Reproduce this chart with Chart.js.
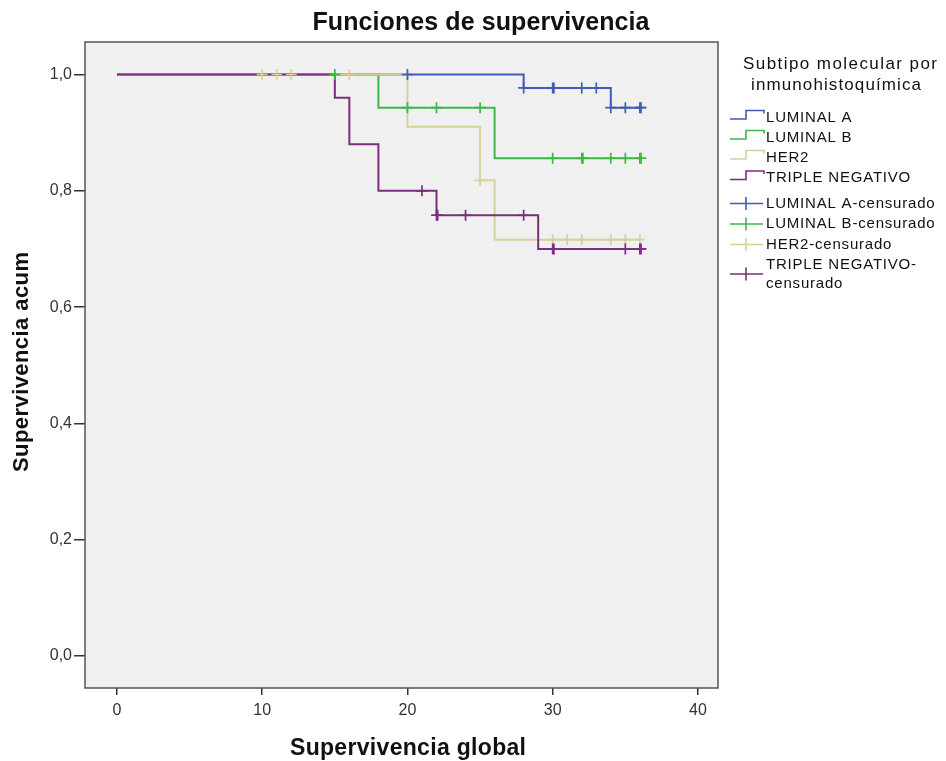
<!DOCTYPE html>
<html>
<head>
<meta charset="utf-8">
<script src="https://cdn.jsdelivr.net/npm/chart.js@4.4.1/dist/chart.umd.min.js"></script>
<style>
  html, body { margin: 0; padding: 0; background: #fff; }
  #wrap { width: 946px; height: 761px; }
</style>
</head>
<body>
<div id="wrap"><canvas id="kmChart" width="946" height="761"></canvas></div>
<script>
// Funciones de supervivencia - Kaplan-Meier por subtipo molecular

const xTicks = [0, 10, 20, 30, 40];
const yTicks = [0, 0.2, 0.4, 0.6, 0.8, 1.0];

const groups = ['LUMINAL A', 'LUMINAL B', 'HER2', 'TRIPLE NEGATIVO'];
const groupColors = ['#3f5cb8', '#3cb84a', '#d8d09a', '#7b2d80'];

// steps: time of each event and survival after it
const lumATimes = [0, 28, 34, 36];
const lumASurv  = [1, 0.977, 0.943, 0.943];
const lumBTimes = [0, 18, 26, 36];
const lumBSurv  = [1, 0.943, 0.856, 0.856];
const her2Times = [0, 20, 25, 26, 36];
const her2Surv  = [1, 0.910, 0.818, 0.716, 0.716];
const tnTimes   = [0, 15, 16, 18, 22, 29, 36];
const tnSurv    = [1, 0.960, 0.880, 0.800, 0.758, 0.700, 0.700];

// censored cases (pairs a hair apart where several fall on the same month)
const lumACensT = [20, 28, 30, 30.08, 32, 33, 34, 35, 36, 36.08];
const lumACensS = [1, 0.977, 0.977, 0.977, 0.977, 0.977, 0.943, 0.943, 0.943, 0.943];
const lumBCensT = [15, 20, 22, 25, 30, 32, 32.08, 34, 35, 36, 36.08];
const lumBCensS = [1, 0.943, 0.943, 0.943, 0.856, 0.856, 0.856, 0.856, 0.856, 0.856, 0.856];
const her2CensT = [10, 11, 12, 16, 25, 30, 31, 32, 34, 35, 36];
const her2CensS = [1, 1, 1, 1, 0.818, 0.716, 0.716, 0.716, 0.716, 0.716, 0.716];
const tnCensT   = [21, 22, 22.08, 24, 28, 30, 30.08, 35, 36, 36.08];
const tnCensS   = [0.800, 0.758, 0.758, 0.758, 0.758, 0.700, 0.700, 0.700, 0.700, 0.700];

const FONT = "'Liberation Sans', Arial, sans-serif";

function pts(xs, ys) {
    return xs.map((x, i) => ({ x: x, y: ys[i] }));
}

function stepSet(label, xs, ys, color, order) {
    return {
        label: label,
        data: pts(xs, ys),
        stepped: 'before',
        borderColor: color,
        borderWidth: 2,
        pointRadius: 0,
        fill: false,
        order: order
    };
}

function censSet(label, xs, ys, color) {
    return {
        label: label + '-censurado',
        data: pts(xs, ys),
        showLine: false,
        pointStyle: 'cross',
        pointRadius: 5.5,
        pointBorderWidth: 1.7,
        pointBorderColor: color,
        pointBackgroundColor: color,
        order: 0
    };
}

// text stretched to the width seen in the picture
function spacedText(ctx, text, cx, y, width) {
    ctx.letterSpacing = '0px';
    const w = ctx.measureText(text).width;
    const sp = width ? (width - w) / Math.max(text.length - 1, 1) : 0;
    ctx.letterSpacing = sp + 'px';
    ctx.textAlign = 'left';
    ctx.fillText(text, cx - (w + sp * (text.length - 1)) / 2, y);
    ctx.letterSpacing = '0px';
}

const spssLook = {
    id: 'spssLook',
    beforeDraw(chart) {
        const { ctx, chartArea: a } = chart;
        ctx.save();
        ctx.fillStyle = '#f0f0f0';
        ctx.fillRect(a.left, a.top, a.right - a.left, a.bottom - a.top);
        ctx.restore();
    },
    beforeDatasetsDraw(chart) {
        const { ctx, chartArea: a } = chart;
        ctx.save();
        ctx.strokeStyle = '#555';
        ctx.lineWidth = 1.5;
        ctx.strokeRect(a.left, a.top, a.right - a.left, a.bottom - a.top);
        ctx.restore();
    },
    afterDraw(chart) {
        const ctx = chart.ctx;
        ctx.save();
        ctx.fillStyle = '#111';
        ctx.textBaseline = 'alphabetic';

        ctx.font = 'bold 25px ' + FONT;
        spacedText(ctx, 'Funciones de supervivencia', 481, 30, 337);

        ctx.font = 'bold 23px ' + FONT;
        spacedText(ctx, 'Supervivencia global', 408, 755, 236);

        ctx.save();
        ctx.translate(28, 362);
        ctx.rotate(-Math.PI / 2);
        ctx.font = 'bold 22px ' + FONT;
        spacedText(ctx, 'Supervivencia acum', 0, 0, 220);
        ctx.restore();

        // legend
        ctx.font = '17px ' + FONT;
        spacedText(ctx, 'Subtipo molecular por', 840, 69, 194);
        spacedText(ctx, 'inmunohistoquímica', 836, 90, 170);

        ctx.font = '15px ' + FONT;
        ctx.textAlign = 'left';
        ctx.textBaseline = 'middle';
        ctx.letterSpacing = '0.8px';
        ctx.lineWidth = 1.6;

        const stepY = [117.5, 137.5, 157.5, 178];
        groups.forEach((g, i) => {
            const y = stepY[i];
            ctx.strokeStyle = groupColors[i];
            ctx.beginPath();
            ctx.moveTo(730, y + 1.5);
            ctx.lineTo(746, y + 1.5);
            ctx.lineTo(746, y - 7);
            ctx.lineTo(764, y - 7);
            ctx.lineTo(764, y - 4);
            ctx.stroke();
            ctx.fillText(g, 766, y);
        });

        const censY = [203.5, 224, 244.5, 274];
        groups.forEach((g, i) => {
            const y = censY[i];
            ctx.strokeStyle = groupColors[i];
            ctx.beginPath();
            ctx.moveTo(730, y);
            ctx.lineTo(763, y);
            ctx.moveTo(746, y - 6.5);
            ctx.lineTo(746, y + 6.5);
            ctx.stroke();
            if (i < 3) {
                ctx.fillText(g + '-censurado', 766, y);
            } else {
                ctx.fillText(g + '-', 766, y - 9.5);
                ctx.fillText('censurado', 766, y + 10);
            }
        });
        ctx.restore();
    }
};

const ctx = document.getElementById('kmChart').getContext('2d');
new Chart(ctx, {
    type: 'line',
    data: {
        datasets: [
            censSet(groups[3], tnCensT, tnCensS, groupColors[3]),
            censSet(groups[2], her2CensT, her2CensS, groupColors[2]),
            censSet(groups[1], lumBCensT, lumBCensS, groupColors[1]),
            censSet(groups[0], lumACensT, lumACensS, groupColors[0]),
            stepSet(groups[3], tnTimes, tnSurv, groupColors[3], 1),
            stepSet(groups[2], her2Times, her2Surv, groupColors[2], 2),
            stepSet(groups[1], lumBTimes, lumBSurv, groupColors[1], 3),
            stepSet(groups[0], lumATimes, lumASurv, groupColors[0], 4)
        ]
    },
    options: {
        responsive: false,
        animation: false,
        events: [],
        layout: { padding: { left: 0, top: 42, right: 228, bottom: 0 } },
        plugins: {
            legend: { display: false },
            title: { display: false },
            tooltip: { enabled: false }
        },
        scales: {
            x: {
                type: 'linear',
                min: -2.2,
                max: 41.38,
                afterBuildTicks: s => { s.ticks = xTicks.map(v => ({ value: v })); },
                afterFit: s => { s.height = 73; },
                border: { display: false },
                grid: { drawOnChartArea: false, drawTicks: true, tickLength: 7, color: '#333', lineWidth: 1.5 },
                ticks: {
                    padding: 6,
                    color: '#333',
                    font: { family: FONT, size: 16 },
                    maxRotation: 0
                }
            },
            y: {
                type: 'linear',
                min: -0.055,
                max: 1.0559,
                afterBuildTicks: s => { s.ticks = yTicks.map(v => ({ value: v })); },
                afterFit: s => { s.width = 85; },
                border: { display: false },
                grid: { drawOnChartArea: false, drawTicks: true, tickLength: 11, color: '#333', lineWidth: 1.5 },
                ticks: {
                    padding: 2,
                    color: '#333',
                    font: { family: FONT, size: 16 },
                    callback: v => v.toFixed(1).replace('.', ',')
                }
            }
        }
    },
    plugins: [spssLook]
});
</script>
</body>
</html>
